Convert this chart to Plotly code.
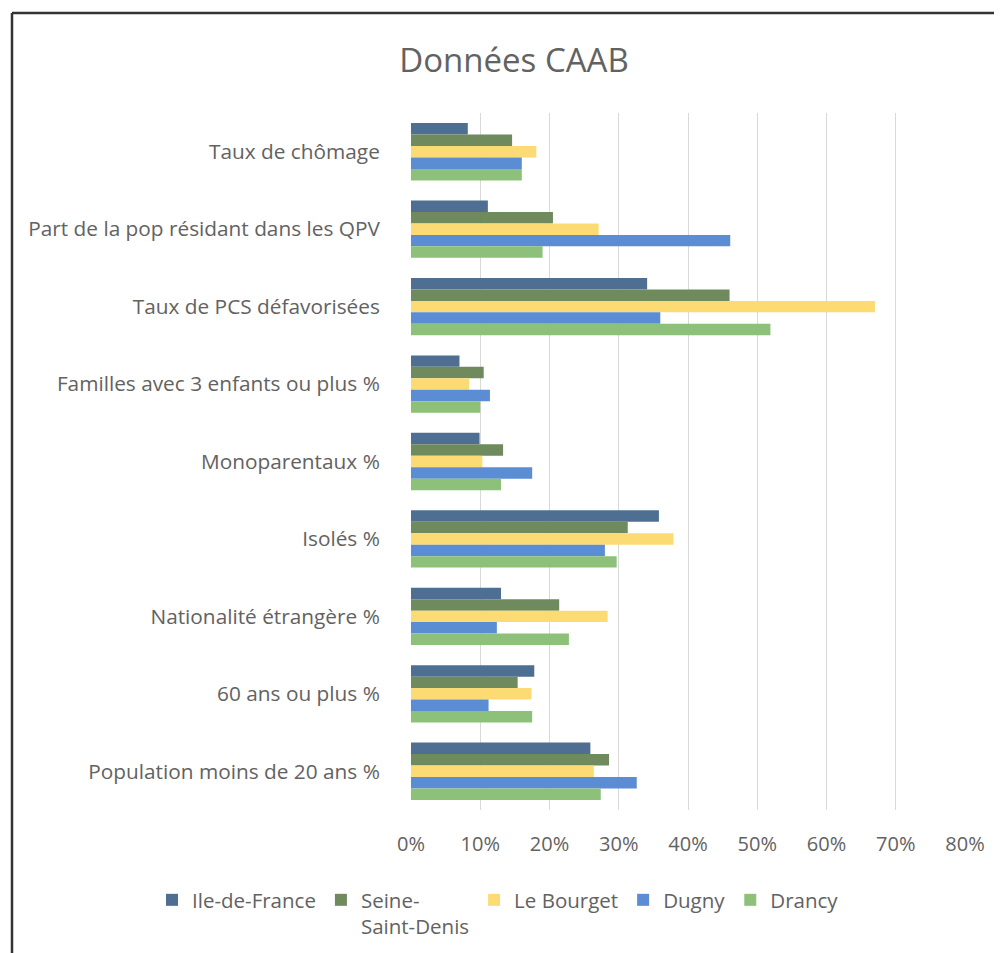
import plotly.graph_objects as go

categories = [
    "Taux de chômage",
    "Part de la pop résidant dans les QPV",
    "Taux de PCS défavorisées",
    "Familles avec 3 enfants ou plus %",
    "Monoparentaux %",
    "Isolés %",
    "Nationalité étrangère %",
    "60 ans ou plus %",
    "Population moins de 20 ans %",
]

series_names = ["Ile-de-France", "Seine-<br>Saint-Denis", "Le Bourget", "Dugny", "Drancy"]

ile_de_france = [0.082, 0.111, 0.341, 0.070, 0.099, 0.358, 0.130, 0.178, 0.259]
seine_saint_denis = [0.146, 0.205, 0.460, 0.105, 0.133, 0.313, 0.214, 0.154, 0.286]
le_bourget = [0.181, 0.271, 0.670, 0.084, 0.103, 0.379, 0.284, 0.174, 0.264]
dugny = [0.160, 0.461, 0.360, 0.114, 0.175, 0.280, 0.124, 0.112, 0.326]
drancy = [0.160, 0.190, 0.519, 0.100, 0.130, 0.297, 0.228, 0.175, 0.274]

series_values = [ile_de_france, seine_saint_denis, le_bourget, dugny, drancy]
colors = ["#4E6F91", "#6F8A5C", "#FDDB74", "#5B8DD5", "#8DC17A"]

tick_vals = [0, 0.1, 0.2, 0.3, 0.4, 0.5, 0.6, 0.7, 0.8]
tick_text = ["0%", "10%", "20%", "30%", "40%", "50%", "60%", "70%", "80%"]

FONT = "Open Sans"
GREY = "#626262"

fig = go.Figure()
for name, vals, col in zip(series_names, series_values, colors):
    fig.add_trace(go.Bar(
        y=categories, x=vals, name=name, orientation="h",
        marker=dict(color=col, line=dict(width=0)),
    ))

OFF = 8  # page body margin
W, H = 1002, 953
# plot area in page pixels
PL, PR, PT, PB = 411, 965, 113, 810
L = PL - OFF
T = PT - OFF
R = W - (PR - OFF)
B = H - (PB - OFF)
pw = W - L - R
ph = H - T - B

def px2x(px):
    return (px - OFF - L) / pw

def py2y(py):
    return (H - B - (py - OFF)) / ph

fig.update_layout(
    width=W, height=H,
    margin=dict(l=L, r=R, t=T, b=B),
    paper_bgcolor="white", plot_bgcolor="white",
    barmode="group", bargap=0.26, bargroupgap=0,
    title=dict(text="Données CAAB", x=(514 - OFF) / W, xanchor="center",
               y=1 - (60 - OFF) / H, yanchor="middle",
               font=dict(family=FONT, size=33, color=GREY)),
    font=dict(family=FONT, size=20, color=GREY),
    showlegend=True,
    legend=dict(orientation="h", x=px2x(152), xanchor="left", y=py2y(880), yanchor="top",
                valign="top", font=dict(family=FONT, size=20.5, color=GREY),
                itemwidth=30, traceorder="normal", tracegroupgap=0),
    xaxis=dict(range=[0, 0.8], tickvals=tick_vals, ticktext=tick_text,
               showgrid=True, gridcolor="#d9d9d9", gridwidth=1,
               zeroline=False, showline=False,
               ticks="outside", ticklen=16, tickcolor="rgba(0,0,0,0)",
               tickfont=dict(family=FONT, size=20, color=GREY), fixedrange=True),
    yaxis=dict(autorange="reversed", showgrid=False, zeroline=False, showline=False,
               ticks="outside", ticklen=26, tickcolor="rgba(0,0,0,0)",
               tickfont=dict(family=FONT, size=20.8, color=GREY)),
    shapes=[
        dict(type="line", xref="paper", yref="paper", x0=px2x(12), x1=px2x(1015),
             y0=py2y(13), y1=py2y(13), line=dict(color="#333333", width=2.5)),
        dict(type="line", xref="paper", yref="paper", x0=px2x(12), x1=px2x(12),
             y0=py2y(13), y1=py2y(970), line=dict(color="#333333", width=2.5)),
    ],
)

fig.write_html("out.html")
